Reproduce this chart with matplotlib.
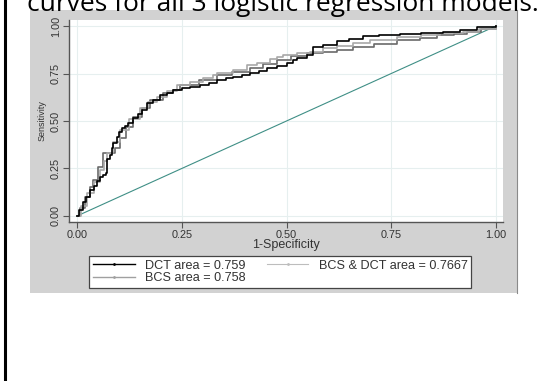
import matplotlib
matplotlib.use("Agg")
import matplotlib.pyplot as plt
from matplotlib.lines import Line2D
from matplotlib.patches import Rectangle

# ROC curves (1-specificity, sensitivity)
dct_fpr = [0, 0.005, 0.014, 0.022, 0.031, 0.040, 0.048, 0.055, 0.062, 0.069, 0.072, 0.079,
           0.083, 0.086, 0.095, 0.100, 0.107, 0.115, 0.122, 0.134, 0.145, 0.155, 0.167, 0.181,
           0.198, 0.215, 0.229, 0.25, 0.27, 0.294, 0.315, 0.334, 0.355, 0.372, 0.393, 0.413,
           0.435, 0.453, 0.478, 0.501, 0.515, 0.525, 0.549, 0.563, 0.587, 0.62, 0.65, 0.683,
           0.72, 0.771, 0.82, 0.873, 0.914, 0.955, 1.0]
dct_tpr = [0, 0.03, 0.074, 0.10, 0.137, 0.160, 0.185, 0.205, 0.215, 0.226, 0.30, 0.32,
           0.36, 0.384, 0.416, 0.440, 0.463, 0.475, 0.489, 0.516, 0.535, 0.558, 0.595, 0.610,
           0.637, 0.650, 0.663, 0.674, 0.680, 0.689, 0.700, 0.716, 0.725, 0.732, 0.742, 0.753,
           0.765, 0.779, 0.790, 0.805, 0.820, 0.832, 0.847, 0.889, 0.900, 0.921, 0.932, 0.947,
           0.953, 0.958, 0.963, 0.968, 0.979, 0.995, 1.0]

bcs_fpr = [0, 0.010, 0.024, 0.040, 0.055, 0.065, 0.072, 0.085, 0.103, 0.125, 0.150, 0.170,
           0.191, 0.215, 0.239, 0.27, 0.30, 0.325, 0.334, 0.372, 0.406, 0.43, 0.461, 0.477,
           0.492, 0.525, 0.556, 0.587, 0.62, 0.659, 0.70, 0.764, 0.82, 0.866, 0.921, 0.96, 1.0]
bcs_tpr = [0, 0.05, 0.121, 0.18, 0.242, 0.29, 0.332, 0.39, 0.453, 0.51, 0.568, 0.60,
           0.626, 0.66, 0.69, 0.705, 0.725, 0.742, 0.755, 0.768, 0.795, 0.805, 0.826, 0.837,
           0.847, 0.858, 0.863, 0.884, 0.895, 0.911, 0.925, 0.942, 0.953, 0.963, 0.968, 0.985, 1.0]

both_fpr = [0, 0.008, 0.020, 0.030, 0.038, 0.050, 0.062, 0.084, 0.090, 0.103, 0.118, 0.134,
            0.155, 0.174, 0.205, 0.229, 0.246, 0.29, 0.334, 0.37, 0.413, 0.445, 0.477, 0.51,
            0.549, 0.587, 0.62, 0.659, 0.71, 0.764, 0.819, 0.859, 0.90, 0.931, 0.965, 1.0]
both_tpr = [0, 0.04, 0.10, 0.15, 0.19, 0.26, 0.332, 0.332, 0.36, 0.411, 0.47, 0.521,
            0.57, 0.611, 0.647, 0.663, 0.689, 0.715, 0.742, 0.76, 0.779, 0.80, 0.821, 0.84,
            0.858, 0.863, 0.875, 0.889, 0.905, 0.926, 0.937, 0.953, 0.96, 0.968, 0.985, 1.0]

labels = ["DCT area = 0.759", "BCS area = 0.758", "BCS & DCT area = 0.7667"]
ticks = [0.0, 0.25, 0.5, 0.75, 1.0]
tick_labels = ["0.00", "0.25", "0.50", "0.75", "1.00"]

plt.rcParams['font.family'] = ['Liberation Sans', 'DejaVu Sans']

fig = plt.figure(figsize=(5.52, 3.81), dpi=100)
fig.patch.set_facecolor("white")

# gray graph region
fig.patches.append(Rectangle((30 / 552, 1 - 293 / 381), 487 / 552, 283 / 381,
                             transform=fig.transFigure, facecolor="#d2d2d2",
                             edgecolor="none", zorder=0))
fig.add_artist(Line2D([517 / 552, 517 / 552], [1 - 293 / 381, 1 - 10 / 381],
                      transform=fig.transFigure, color="#8a8a8a", lw=0.8))
# black rule on the left of the page
fig.add_artist(Line2D([5 / 552, 5 / 552], [0, 1], transform=fig.transFigure,
                      color="black", lw=2.2))
# caption, cut off at the top as in the source
fig.text(27 / 552, 1 - 11 / 381, "curves for all 3 logistic regression models.",
         fontsize=19, family="Open Sans", va="baseline", ha="left", color="black")

ax = fig.add_axes([69 / 552, 1 - 222 / 381, 434 / 552, 202 / 381], zorder=2)
ax.set_facecolor("white")
ax.set_xlim(-0.0191, 1.0167)
ax.set_ylim(-0.0316, 1.0316)

ax.grid(True, color="#e6efef", lw=0.8)
ax.set_axisbelow(True)

ax.plot([0, 1], [0, 1], color="#3f8f86", lw=0.8, zorder=2)
ax.plot(both_fpr, both_tpr, drawstyle="steps-post", color="#6a6a6a", lw=1.2, zorder=3)
ax.plot(bcs_fpr, bcs_tpr, drawstyle="steps-post", color="#a8a8a8", lw=1.2, zorder=4)
ax.plot(dct_fpr, dct_tpr, drawstyle="steps-post", color="black", lw=1.2, zorder=5)

for s in ["top", "right"]:
    ax.spines[s].set_visible(False)
for s in ["left", "bottom"]:
    ax.spines[s].set_color("#555555")
    ax.spines[s].set_linewidth(1.0)

ax.set_xticks(ticks)
ax.set_xticklabels(tick_labels)
ax.set_yticks(ticks)
ax.set_yticklabels(tick_labels, rotation=90, va="center")
ax.tick_params(colors="#555555", labelcolor="#333333", labelsize=7.8, length=4,
               width=0.8, pad=2)

ax.set_xlabel("1-Specificity", fontsize=9, color="#333333", labelpad=-1)
ax.set_ylabel("Sensitivity", fontsize=6.5, color="#333333", labelpad=3)

handles = [
    Line2D([], [], color="black", lw=1.0, marker=".", markersize=2),
    Line2D([], [], color="#a0a0a0", lw=1.0, marker=".", markersize=2),
    Line2D([], [], color="#bdbdbd", lw=0.8, marker=".", markersize=2),
]
leg = fig.legend(handles, labels, ncol=2, loc="upper left",
                 bbox_to_anchor=(89 / 552, 1 - 256 / 381),
                 fontsize=9.1, frameon=True, fancybox=False, framealpha=1,
                 handlelength=3.3, numpoints=1, borderpad=0.3, labelspacing=0.05,
                 handletextpad=0.8, columnspacing=1.7, borderaxespad=0)
leg.set_zorder(3)
leg.get_frame().set_edgecolor("#444444")
leg.get_frame().set_linewidth(0.9)
for t in leg.get_texts():
    t.set_color("#333333")

fig.savefig("out.png", dpi=100)
